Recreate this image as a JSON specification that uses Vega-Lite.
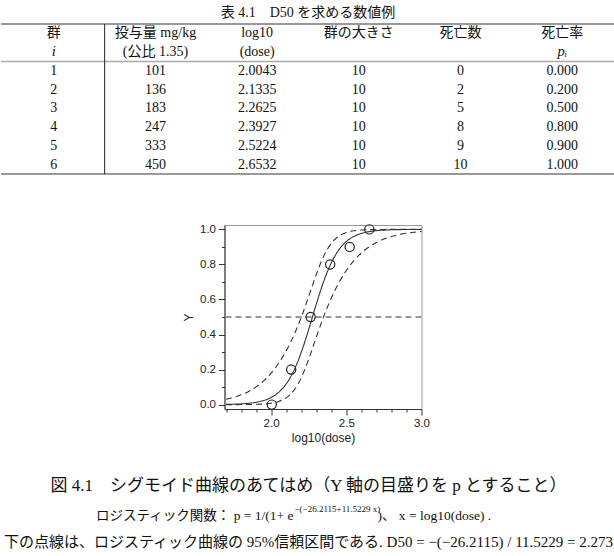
{
  "$schema": "https://vega.github.io/schema/vega-lite/v6.json",
  "padding": {"left": 0, "right": 0, "top": 6, "bottom": 0},
  "config": {"view": {"stroke": null}, "font": "Liberation Serif, Noto Sans CJK JP"},
  "datasets": {
    "table": [
      {"row": "h1", "group": "群", "dose": "投与量 mg/kg", "logdose": "log10", "size": "群の大きさ", "deaths": "死亡数", "rate": "死亡率"},
      {"row": "h2", "group": "", "dose": "(公比 1.35)", "logdose": "(dose)", "size": "", "deaths": "", "rate": ""},
      {"row": "1", "group": "1", "dose": "101", "logdose": "2.0043", "size": "10", "deaths": "0", "rate": "0.000"},
      {"row": "2", "group": "2", "dose": "136", "logdose": "2.1335", "size": "10", "deaths": "2", "rate": "0.200"},
      {"row": "3", "group": "3", "dose": "183", "logdose": "2.2625", "size": "10", "deaths": "5", "rate": "0.500"},
      {"row": "4", "group": "4", "dose": "247", "logdose": "2.3927", "size": "10", "deaths": "8", "rate": "0.800"},
      {"row": "5", "group": "5", "dose": "333", "logdose": "2.5224", "size": "10", "deaths": "9", "rate": "0.900"},
      {"row": "6", "group": "6", "dose": "450", "logdose": "2.6532", "size": "10", "deaths": "10", "rate": "1.000"}
    ],
    "tableItalic": [
      {"row": "h2", "key": "group", "text": "i"},
      {"row": "h2", "key": "rate", "text": "pᵢ"}
    ],
    "groups": [
      {"logdose": 2.0043, "p": 0.0},
      {"logdose": 2.1335, "p": 0.2},
      {"logdose": 2.2625, "p": 0.5},
      {"logdose": 2.3927, "p": 0.8},
      {"logdose": 2.5224, "p": 0.9},
      {"logdose": 2.6532, "p": 1.0}
    ],
    "curves": [
      {"logdose": 1.70, "fit": 0.0013, "upper": 0.0302, "lower": 0.0001},
      {"logdose": 1.75, "fit": 0.0024, "upper": 0.0410, "lower": 0.0001},
      {"logdose": 1.80, "fit": 0.0042, "upper": 0.0557, "lower": 0.0003},
      {"logdose": 1.85, "fit": 0.0074, "upper": 0.0752, "lower": 0.0007},
      {"logdose": 1.90, "fit": 0.0132, "upper": 0.1012, "lower": 0.0016},
      {"logdose": 1.95, "fit": 0.0232, "upper": 0.1353, "lower": 0.0036},
      {"logdose": 2.00, "fit": 0.0405, "upper": 0.1796, "lower": 0.0081},
      {"logdose": 2.05, "fit": 0.0698, "upper": 0.2360, "lower": 0.0179},
      {"logdose": 2.10, "fit": 0.1178, "upper": 0.3067, "lower": 0.0387},
      {"logdose": 2.15, "fit": 0.1919, "upper": 0.3935, "lower": 0.0800},
      {"logdose": 2.20, "fit": 0.2971, "upper": 0.4977, "lower": 0.1527},
      {"logdose": 2.25, "fit": 0.4292, "upper": 0.6175, "lower": 0.2593},
      {"logdose": 2.30, "fit": 0.5723, "upper": 0.7418, "lower": 0.3839},
      {"logdose": 2.35, "fit": 0.7041, "upper": 0.8480, "lower": 0.5038},
      {"logdose": 2.40, "fit": 0.8089, "upper": 0.9204, "lower": 0.6079},
      {"logdose": 2.45, "fit": 0.8828, "upper": 0.9615, "lower": 0.6945},
      {"logdose": 2.50, "fit": 0.9306, "upper": 0.9822, "lower": 0.7650},
      {"logdose": 2.55, "fit": 0.9597, "upper": 0.9920, "lower": 0.8213},
      {"logdose": 2.60, "fit": 0.9770, "upper": 0.9964, "lower": 0.8654},
      {"logdose": 2.65, "fit": 0.9869, "upper": 0.9984, "lower": 0.8993},
      {"logdose": 2.70, "fit": 0.9926, "upper": 0.9993, "lower": 0.9252},
      {"logdose": 2.75, "fit": 0.9958, "upper": 0.9997, "lower": 0.9446},
      {"logdose": 2.80, "fit": 0.9977, "upper": 0.9999, "lower": 0.9592},
      {"logdose": 2.85, "fit": 0.9987, "upper": 0.9999, "lower": 0.9700},
      {"logdose": 2.90, "fit": 0.9993, "upper": 1.0000, "lower": 0.9780},
      {"logdose": 2.95, "fit": 0.9996, "upper": 1.0000, "lower": 0.9838},
      {"logdose": 3.00, "fit": 0.9998, "upper": 1.0000, "lower": 0.9881}
    ],
    "ref": [{"p": 0.5}],
    "captions": [
      {"line": "l1", "text": "図 4.1　シグモイド曲線のあてはめ（Y 軸の目盛りを p とすること）"}
    ],
    "caption3": [
      {"line": "l3", "text": "下の点線は、ロジスティック曲線の 95%信頼区間である. D50 = −(−26.2115) / 11.5229 = 2.273"}
    ],
    "cap2a": [{"line": "l2", "text": "ロジスティック関数： p = 1/(1+ e"}],
    "cap2b": [{"line": "l2", "text": "−(−26.2115+11.5229 x)"}],
    "cap2c": [{"line": "l2", "text": ")、 x = log10(dose) ."}]
  },
  "center": true,
  "spacing": 46,
  "vconcat": [
    {
      "width": 614,
      "height": 150,
      "title": {"text": "表 4.1　D50 を求める数値例", "font": "Liberation Serif, Noto Sans CJK JP", "fontSize": 14, "fontWeight": "normal", "offset": 3, "color": "#111", "anchor": "middle"},
      "layer": [
        {
          "data": {"name": "table"},
          "transform": [{"fold": ["group", "dose", "logdose", "size", "deaths", "rate"], "as": ["key", "text"]}],
          "mark": {"type": "text", "font": "Liberation Serif, Noto Sans CJK JP", "fontSize": 14, "color": "#111"},
          "encoding": {
            "x": {"field": "key", "type": "nominal", "scale": {"type": "band", "domain": ["group", "dose", "logdose", "size", "deaths", "rate"], "range": [2, 612], "paddingInner": 0, "paddingOuter": 0}, "axis": null},
            "y": {"field": "row", "type": "nominal", "scale": {"type": "band", "domain": ["h1", "h2", "1", "2", "3", "4", "5", "6"], "paddingInner": 0, "paddingOuter": 0}, "axis": null},
            "text": {"field": "text"}
          }
        },
        {
          "data": {"name": "tableItalic"},
          "mark": {"type": "text", "font": "Liberation Serif", "fontSize": 14.5, "fontStyle": "italic", "color": "#111"},
          "encoding": {
            "x": {"field": "key", "type": "nominal", "scale": {"type": "band"}, "axis": null},
            "y": {"field": "row", "type": "nominal", "scale": {"type": "band"}, "axis": null},
            "text": {"field": "text"}
          }
        },
        {
          "data": {"values": [{"row": "h1"}]},
          "mark": {"type": "rule", "color": "#999", "strokeWidth": 2},
          "encoding": {"y": {"field": "row", "type": "nominal", "bandPosition": 0, "axis": null}}
        },
        {
          "data": {"values": [{"row": "1"}]},
          "mark": {"type": "rule", "color": "#aaa", "strokeWidth": 1.5},
          "encoding": {"y": {"field": "row", "type": "nominal", "bandPosition": 0, "axis": null}}
        },
        {
          "data": {"values": [{"row": "6"}]},
          "mark": {"type": "rule", "color": "#999", "strokeWidth": 2},
          "encoding": {"y": {"field": "row", "type": "nominal", "bandPosition": 1, "axis": null}}
        },
        {
          "data": {"values": [{"key": "dose"}]},
          "mark": {"type": "rule", "color": "#222", "strokeWidth": 1},
          "encoding": {"x": {"field": "key", "type": "nominal", "bandPosition": 0, "axis": null}}
        }
      ]
    },
    {
      "spacing": 30,
      "vconcat": [
        {
          "spacing": 0,
          "hconcat": [
            {
              "width": 180,
              "height": 184,
              "data": {"values": []},
              "mark": {"type": "point", "opacity": 0}
            },
            {
              "width": 197,
              "height": 184,
              "view": {"stroke": "#999", "strokeWidth": 1},
              "encoding": {
                "y": {
                  "field": "p", "type": "quantitative",
                  "scale": {"domain": [-0.025, 1.025], "nice": false, "zero": false},
                  "axis": {
                    "title": "Y",
                    "values": [0, 0.1, 0.2, 0.3, 0.4, 0.5, 0.6, 0.7, 0.8, 0.9, 1],
                    "labelExpr": "(datum.value == 0 || datum.value == 0.2 || datum.value == 0.4 || datum.value == 0.6 || datum.value == 0.8 || datum.value == 1) ? format(datum.value, '.1f') : ''",
                    "tickSize": {"condition": {"test": "datum.value == 0 || datum.value == 0.2 || datum.value == 0.4 || datum.value == 0.6 || datum.value == 0.8 || datum.value == 1", "value": 6}, "value": 3},
                    "grid": false, "labelOverlap": false, "labelFlush": false, "labelBound": false,
                    "domainColor": "#333", "tickColor": "#333",
                    "labelFont": "Liberation Sans", "labelFontSize": 11.5, "labelColor": "#222", "labelPadding": 3,
                    "titleFont": "Liberation Sans", "titleFontSize": 12, "titleFontWeight": "normal", "titleColor": "#222", "titlePadding": 4
                  }
                }
              },
              "layer": [
                {
                  "data": {"name": "ref"},
                  "mark": {"type": "rule", "color": "#777", "strokeWidth": 1.4, "strokeDash": [6, 4]},
                  "encoding": {}
                },
                {
                  "data": {"name": "curves"},
                  "transform": [{"fold": ["fit", "upper", "lower"], "as": ["curve", "p"]}],
                  "mark": {"type": "line", "interpolate": "monotone", "color": "#333", "strokeWidth": 1.1},
                  "encoding": {
                    "x": {
                      "field": "logdose", "type": "quantitative",
                      "scale": {"domain": [1.69, 3.0], "nice": false, "zero": false},
                      "axis": {
                        "title": "log10(dose)",
                        "values": [1.7, 1.8, 1.9, 2, 2.1, 2.2, 2.3, 2.4, 2.5, 2.6, 2.7, 2.8, 2.9, 3],
                        "labelExpr": "(datum.value == 2 || datum.value == 2.5 || datum.value == 3) ? format(datum.value, '.1f') : ''",
                        "tickSize": {"condition": {"test": "datum.value == 2 || datum.value == 2.5 || datum.value == 3", "value": 6}, "value": 3},
                        "grid": false, "labelOverlap": false, "labelFlush": false, "labelBound": false,
                        "domainColor": "#333", "tickColor": "#333",
                        "labelFont": "Liberation Sans", "labelFontSize": 11.5, "labelColor": "#222", "labelPadding": 2,
                        "titleFont": "Liberation Sans", "titleFontSize": 12, "titleFontWeight": "normal", "titleColor": "#222", "titlePadding": 4
                      }
                    },
                    "strokeDash": {"field": "curve", "type": "nominal", "scale": {"domain": ["fit", "upper", "lower"], "range": [[1, 0], [6, 4], [6, 4]]}, "legend": null}
                  }
                },
                {
                  "data": {"name": "groups"},
                  "mark": {"type": "point", "shape": "circle", "size": 85, "filled": false, "color": "#222", "strokeWidth": 1.2, "opacity": 1},
                  "encoding": {
                    "x": {
                      "field": "logdose", "type": "quantitative",
                      "scale": {"domain": [1.69, 3.0], "nice": false, "zero": false},
                      "axis": {
                        "title": "log10(dose)",
                        "values": [1.7, 1.8, 1.9, 2, 2.1, 2.2, 2.3, 2.4, 2.5, 2.6, 2.7, 2.8, 2.9, 3],
                        "labelExpr": "(datum.value == 2 || datum.value == 2.5 || datum.value == 3) ? format(datum.value, '.1f') : ''",
                        "tickSize": {"condition": {"test": "datum.value == 2 || datum.value == 2.5 || datum.value == 3", "value": 6}, "value": 3},
                        "grid": false, "labelOverlap": false, "labelFlush": false, "labelBound": false,
                        "domainColor": "#333", "tickColor": "#333",
                        "labelFont": "Liberation Sans", "labelFontSize": 11.5, "labelColor": "#222", "labelPadding": 2,
                        "titleFont": "Liberation Sans", "titleFontSize": 12, "titleFontWeight": "normal", "titleColor": "#222", "titlePadding": 4
                      }
                    }
                  }
                }
              ]
            }
          ]
        },
        {
          "width": 614,
          "height": 81,
          "encoding": {
            "y": {"field": "line", "type": "nominal", "scale": {"type": "band", "domain": ["l1", "l2", "l3"], "paddingInner": 0, "paddingOuter": 0}, "axis": null},
            "text": {"field": "text"}
          },
          "layer": [
            {
              "data": {"name": "captions"},
              "mark": {"type": "text", "font": "Liberation Serif, Noto Sans CJK JP", "fontSize": 17, "color": "#111", "dy": -2}
            },
            {
              "data": {"name": "caption3"},
              "mark": {"type": "text", "font": "Liberation Serif, Noto Sans CJK JP", "fontSize": 15, "color": "#111", "limit": 612, "ellipsis": ""}
            },
            {
              "data": {"name": "cap2a"},
              "mark": {"type": "text", "font": "Liberation Serif, Noto Sans CJK JP", "fontSize": 13.5, "color": "#111", "align": "right", "dx": -15, "dy": 1}
            },
            {
              "data": {"name": "cap2b"},
              "mark": {"type": "text", "font": "Liberation Serif, Noto Sans CJK JP", "fontSize": 9, "color": "#111", "align": "left", "dx": -14, "dy": -6}
            },
            {
              "data": {"name": "cap2c"},
              "mark": {"type": "text", "font": "Liberation Serif, Noto Sans CJK JP", "fontSize": 13.5, "color": "#111", "align": "left", "dx": 69, "dy": 1}
            }
          ]
        }
      ]
    }
  ]
}
